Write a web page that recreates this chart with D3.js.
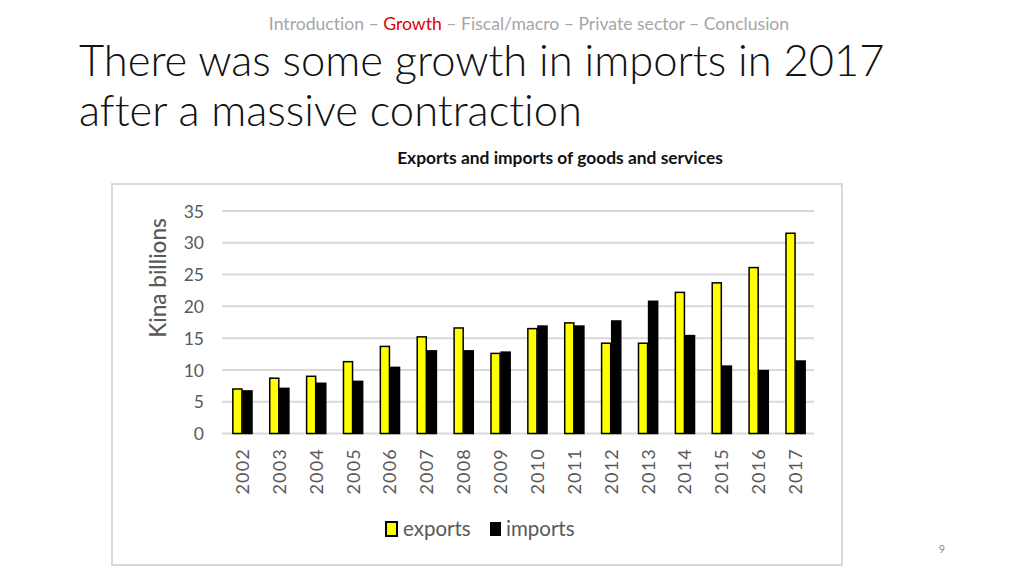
<!DOCTYPE html>
<html><head><meta charset="utf-8">
<script src="https://cdn.jsdelivr.net/npm/d3@7"></script>
<style>body{margin:0;background:#fff}svg{display:block}text{font-variant-ligatures:none}</style>
</head><body>
<svg id="c" width="1024" height="576"></svg>
<script>
const years = ["2002","2003","2004","2005","2006","2007","2008","2009","2010","2011","2012","2013","2014","2015","2016","2017"];
const exportsVals = [7.0,8.7,9.0,11.3,13.7,15.2,16.6,12.6,16.5,17.4,14.2,14.2,22.2,23.7,26.1,31.5];
const importsVals = [6.7,7.1,7.9,8.2,10.4,13.0,13.0,12.8,16.9,16.9,17.7,20.8,15.4,10.6,9.9,11.4];
const seriesNames = ["exports","imports"];
const yTicks = [0,5,10,15,20,25,30,35];

const svg = d3.select("#c");
const font = "Lato, 'Open Sans', sans-serif";

// header nav
const nav = svg.append("text").attr("x",529).attr("y",30).attr("text-anchor","middle")
  .attr("font-family",font).attr("font-size",17.6).attr("fill","#a6a6a6");
nav.append("tspan").text("Introduction – ");
nav.append("tspan").attr("fill","#e00000").text("Growth");
nav.append("tspan").text(" – Fiscal/macro – Private sector – Conclusion");

// title
const title = svg.append("text").attr("font-family",font).attr("font-weight",300)
  .attr("font-size",43.5).attr("fill","#111");
title.append("tspan").attr("x",79).attr("y",76).text("There was some growth in imports in 2017");
title.append("tspan").attr("x",79).attr("y",126).text("after a massive contraction");

svg.append("text").attr("x",560).attr("y",164).attr("text-anchor","middle")
  .attr("font-family",font).attr("font-weight",700).attr("font-size",17.4).attr("fill","#111")
  .text("Exports and imports of goods and services");

// chart frame
svg.append("rect").attr("x",112).attr("y",184).attr("width",730).attr("height",381)
  .attr("fill","#fff").attr("stroke","#d9d9d9").attr("stroke-width",2);

const x = d3.scaleBand().domain(years).range([224,814]).paddingInner(0.48).paddingOuter(0.24);
const y = d3.scaleLinear().domain([0,35]).range([433.5,211]);

// gridlines
const g = svg.append("g");
g.selectAll("line.grid").data(yTicks).join("line")
  .attr("x1",222).attr("x2",814).attr("y1",d=>y(d)).attr("y2",d=>y(d))
  .attr("stroke","#d9d9d9").attr("stroke-width",2);

// y axis
const yAxis = d3.axisLeft(y).tickValues(yTicks).tickSize(0).tickPadding(0);
const ya = svg.append("g").attr("transform","translate(204,0)").call(yAxis);
ya.select(".domain").remove();
ya.selectAll("text").attr("font-family",font).attr("font-size",17.5).attr("fill","#595959").attr("dy","0.35em");

svg.append("text").attr("transform","translate(166,278) rotate(-90)").attr("text-anchor","middle")
  .attr("font-family",font).attr("font-size",22.5).attr("font-weight",500).attr("fill","#595959").text("Kina billions");

// bars
const inner = d3.scaleBand().domain(seriesNames).range([0,x.bandwidth()]).paddingInner(0.1);
const colors = {exports:"#ffff00", imports:"#000000"};
const data = years.map((yr,i)=>({year:yr, exports:exportsVals[i], imports:importsVals[i]}));
const grp = svg.append("g").selectAll("g").data(data).join("g")
  .attr("transform",d=>`translate(${x(d.year)},0)`);
grp.selectAll("rect").data(d=>seriesNames.map(k=>({k, v:d[k]}))).join("rect")
  .attr("x",d=>inner(d.k)).attr("width",inner.bandwidth())
  .attr("y",d=>y(d.v)).attr("height",d=>y(0)-y(d.v))
  .attr("fill",d=>colors[d.k]).attr("stroke","#000").attr("stroke-width",1.5);

// x axis
const xAxis = d3.axisBottom(x).tickSize(0).tickPadding(0);
const xa = svg.append("g").attr("transform","translate(0,446)").call(xAxis);
xa.select(".domain").remove();
xa.selectAll("text").attr("font-family",font).attr("font-size",18).attr("fill","#595959")
  .attr("letter-spacing","1.2px")
  .attr("transform","rotate(-90)").attr("text-anchor","end").attr("x",-2).attr("y",0).attr("dy","0.36em");

// legend
const leg = svg.append("g").attr("transform","translate(386,522)");
leg.append("rect").attr("x",0).attr("y",0).attr("width",11).attr("height",14).attr("fill","#ffff00").attr("stroke","#000").attr("stroke-width",2);
leg.append("text").attr("x",17).attr("y",14).attr("font-family",font).attr("font-size",20.5).attr("fill","#595959").text("exports");
leg.append("rect").attr("x",104).attr("y",0).attr("width",11).attr("height",14).attr("fill","#000");
leg.append("text").attr("x",120).attr("y",14).attr("font-family",font).attr("font-size",20.5).attr("fill","#595959").text("imports");

svg.append("text").attr("x",942).attr("y",553).attr("text-anchor","middle")
  .attr("font-family",font).attr("font-size",11).attr("fill","#8c8c8c").text("9");
</script>
</body></html>
